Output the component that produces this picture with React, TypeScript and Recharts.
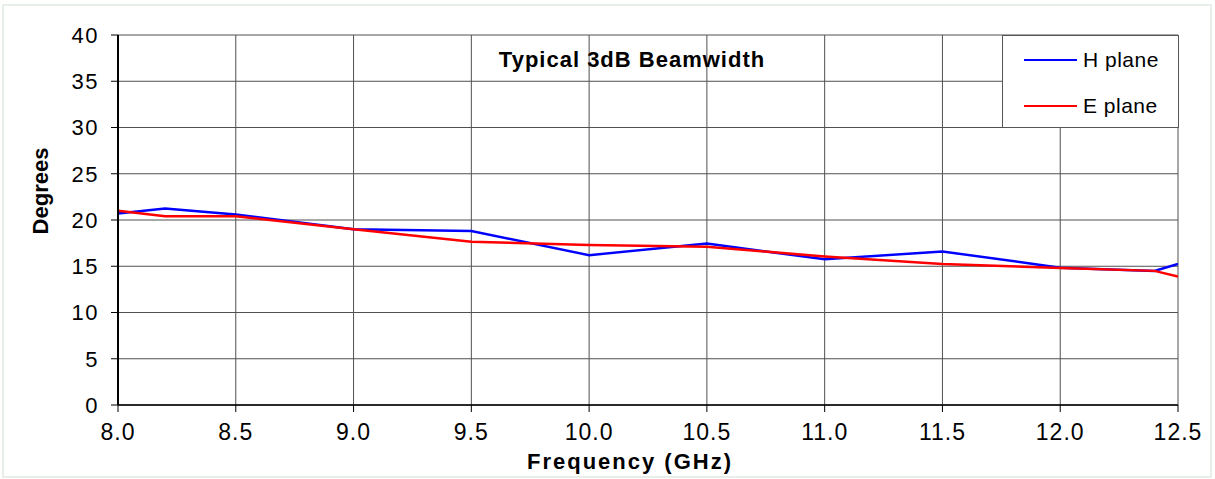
import React from "react";
import { LineChart, Line, XAxis, YAxis, CartesianGrid, Legend, Label } from "recharts";

const freqs = [8.0, 8.2, 8.5, 9.0, 9.5, 10.0, 10.5, 11.0, 11.5, 12.0, 12.4, 12.5];
const hPlane = [20.7, 21.25, 20.6, 19.0, 18.8, 16.2, 17.45, 15.75, 16.6, 14.85, 14.5, 15.25];
const ePlane = [21.0, 20.4, 20.4, 19.0, 17.65, 17.3, 17.1, 16.05, 15.25, 14.8, 14.5, 13.9];
const seriesNames = ["H plane", "E plane"];

const xTicks = [8.0, 8.5, 9.0, 9.5, 10.0, 10.5, 11.0, 11.5, 12.0, 12.5];
const yTicks = [0, 5, 10, 15, 20, 25, 30, 35, 40];

const data = freqs.map((f, i) => ({ f, h: hPlane[i], e: ePlane[i] }));

const FONT = "'Liberation Sans', Arial, sans-serif";

function LegendBox(props: any) {
  const payload = [...(props.payload || [])].sort(
    (a: any, b: any) => seriesNames.indexOf(a.value) - seriesNames.indexOf(b.value)
  );
  return (
    <div
      style={{
        width: 177,
        height: 93,
        boxSizing: "border-box",
        border: "1px solid #555",
        background: "#fff",
        position: "relative",
        fontFamily: FONT,
      }}
    >
      {payload.map((p: any, i: number) => (
        <div
          key={p.value}
          style={{
            position: "absolute",
            left: 21,
            top: 12 + i * 46,
            height: 24,
            display: "flex",
            alignItems: "center",
          }}
        >
          <span style={{ display: "inline-block", width: 53, height: 2.5, background: p.color }} />
          <span style={{ marginLeft: 6, fontSize: 21, color: "#000", letterSpacing: 0.5 }}>{p.value}</span>
        </div>
      ))}
    </div>
  );
}

export default function App() {
  return (
    <div
      style={{
        position: "absolute",
        left: 0,
        top: 0,
        width: 1215,
        height: 479,
        background: "#fff",
        fontFamily: FONT,
      }}
    >
      <div
        style={{
          position: "absolute",
          left: 2,
          top: 4,
          width: 1210,
          height: 474,
          boxSizing: "border-box",
          border: "2px solid #e8efe8",
        }}
      />
      <div style={{ position: "absolute", left: 0, top: 0 }}>
        <LineChart
          width={1215}
          height={479}
          data={data}
          margin={{ top: 35, right: 37, bottom: 44, left: 18 }}
        >
          <CartesianGrid stroke="#505050" strokeWidth={1} />
          <XAxis
            dataKey="f"
            type="number"
            domain={[8, 12.5]}
            ticks={xTicks}
            interval={0}
            allowDataOverflow
            tickFormatter={(v: number) => v.toFixed(1)}
            height={30}
            tickSize={7}
            tickMargin={12}
            axisLine={{ stroke: "#000", strokeWidth: 1.5 }}
            tickLine={{ stroke: "#000" }}
            tick={{ fill: "#000", fontSize: 23, fontFamily: FONT, letterSpacing: 1 }}
          >
            <Label
              content={() => (
                <text
                  x={630}
                  y={469}
                  textAnchor="middle"
                  fontFamily={FONT}
                  fontSize={22}
                  fontWeight="bold"
                  letterSpacing={2}
                  fill="#000"
                >
                  Frequency (GHz)
                </text>
              )}
            />
          </XAxis>
          <YAxis
            type="number"
            domain={[0, 40]}
            ticks={yTicks}
            interval={0}
            width={100}
            tickSize={7}
            tickMargin={12}
            axisLine={{ stroke: "#000", strokeWidth: 2 }}
            tickLine={{ stroke: "#000" }}
            tick={{ fill: "#000", fontSize: 22, fontFamily: FONT, letterSpacing: 1.5 }}
          >
            <Label
              content={() => (
                <text
                  x={48}
                  y={191}
                  transform="rotate(-90 48 191)"
                  textAnchor="middle"
                  fontFamily={FONT}
                  fontSize={22}
                  fontWeight="bold"
                  fill="#000"
                >
                  Degrees
                </text>
              )}
            />
          </YAxis>
          <Legend
            layout="vertical"
            align="center"
            verticalAlign="middle"
            content={(p: any) => <LegendBox {...p} />}
            wrapperStyle={{ position: "absolute", left: 1002, top: 35, width: 177, height: 93 }}
          />
          <Line
            dataKey="h"
            name="H plane"
            stroke="#0000ff"
            strokeWidth={2.5}
            dot={false}
            activeDot={false}
            isAnimationActive={false}
          />
          <Line
            dataKey="e"
            name="E plane"
            stroke="#ff0000"
            strokeWidth={2.5}
            dot={false}
            activeDot={false}
            isAnimationActive={false}
          />
        </LineChart>
      </div>
      <div
        style={{
          position: "absolute",
          left: 432,
          top: 49,
          width: 400,
          textAlign: "center",
          fontSize: 22,
          lineHeight: "22px",
          fontWeight: "bold",
          letterSpacing: 1,
          color: "#000",
        }}
      >
        Typical 3dB Beamwidth
      </div>
    </div>
  );
}
